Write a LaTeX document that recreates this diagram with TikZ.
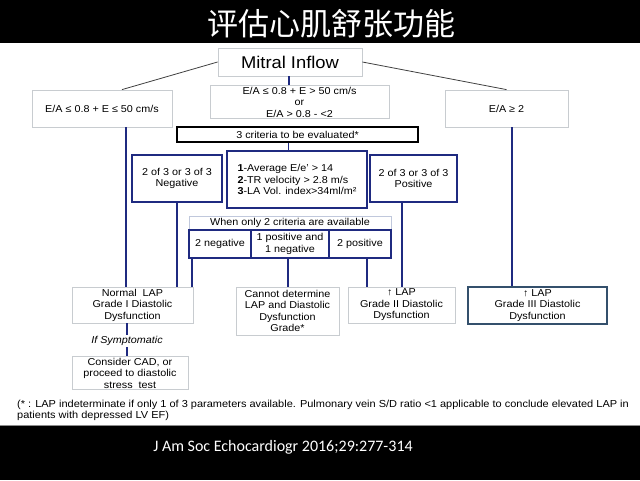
\documentclass[tikz,border=0pt]{standalone}
\usepackage{fontspec}
\setmainfont{Liberation Sans}[FakeStretch=1.08]
\newfontfamily\cjk{Noto Sans CJK SC}
\newfontfamily\citefont{Carlito}
\usetikzlibrary{positioning}
\definecolor{navy}{HTML}{1F2A80}
\definecolor{boxgray}{HTML}{C8CCD0}
\definecolor{slateblue}{HTML}{34506C}
\definecolor{lightframe}{HTML}{C0C8DC}

\begin{document}
\begin{tikzpicture}[x=1pt, y=-1pt,
	thinbox/.style={draw=boxgray, line width=0.8pt, fill=white, align=center, inner sep=1pt,
		font=\fontsize{10}{11.5}\selectfont},
	bluebox/.style={thinbox, draw=navy, line width=2pt},
	blueline/.style={draw=navy, line width=1.8pt},
	greyline/.style={draw=black!75, line width=0.8pt}]
	\useasboundingbox (0,0) rectangle (640,480);

	% Title and citation bars
	\fill[black] (0,0) rectangle (640,43);
	\fill[black] (0,425) rectangle (640,480);
	\draw[black!45, line width=0.6pt] (0,425) -- (640,425);
	\node[text=white, font=\cjk\fontsize{31}{33}\selectfont] (title) at (331,23.5) {评估心肌舒张功能};
	\node[text=white, font=\citefont\fontsize{16}{18}\selectfont] (cite) at (283,447) {J Am Soc Echocardiogr 2016;29:277-314};

	% Mitral inflow and first split
	\node[thinbox, minimum width=144, minimum height=28, font=\fontsize{17}{19}\selectfont] (mitral) at (290,62) {Mitral Inflow};
	\node[thinbox, minimum width=140, minimum height=37] (leftcond) at (102,108.5) {E/A ≤ 0.8 + E ≤ 50 cm/s};
	\node[thinbox, minimum width=179, minimum height=32] (midcond) at (299.5,102) {E/A ≤ 0.8 + E > 50 cm/s\\or\\E/A > 0.8 - <2};
	\node[thinbox, minimum width=123, minimum height=37] (rightcond) at (506.5,108.5) {E/A ≥ 2};

	\draw[greyline] (mitral.west) -- ([xshift=20]leftcond.north);
	\draw[greyline] (mitral.east) -- (rightcond.north);
	\draw[blueline] ([xshift=-1]mitral.south) -- ([xshift=-1]mitral.south |- midcond.north);

	% Three criteria
	\node[thinbox, draw=black, line width=2.2pt, minimum width=241, minimum height=15, inner sep=0pt] (three) at (297.5,134.5) {3 criteria to be evaluated*};
	\node[bluebox, minimum width=90, minimum height=47] (neg) at (177,178.5) {2 of 3 or 3 of 3\\Negative};
	\node[bluebox, minimum width=140, minimum height=57, align=left] (crit) at (297,179.5) {\textbf{1}-Average E/e' > 14\\\textbf{2}-TR velocity > 2.8 m/s\\\textbf{3}-LA Vol. index>34ml/m²};
	\node[bluebox, minimum width=87, minimum height=47] (pos) at (413.5,178.5) {2 of 3 or 3 of 3\\Positive};
	\draw[blueline] ([xshift=-9]three.south) -- ([xshift=-9]three.south |- crit.north);

	% Only two criteria
	\node[thinbox, draw=lightframe, minimum width=202, minimum height=14, inner sep=0pt] (when) at (290,223) {When only 2 criteria are available};
	\node[bluebox, minimum width=62, minimum height=28] (twoneg) at (220,244) {2 negative};
	\node[bluebox, minimum width=78, minimum height=28] (mixed) at (290,244) {1 positive and\\1 negative};
	\node[bluebox, minimum width=62, minimum height=28] (twopos) at (360,244) {2 positive};

	% Outcomes
	\node[thinbox, minimum width=121, minimum height=36] (normal) at (132.5,305) {Normal\ \ LAP\\Grade I Diastolic\\Dysfunction};
	\node[thinbox, minimum width=103, minimum height=48] (cannot) at (287.5,311) {Cannot determine\\LAP and Diastolic\\Dysfunction\\Grade*};
	\node[thinbox, minimum width=107, minimum height=36] (gradeii) at (401.5,305) {↑ LAP\\Grade II Diastolic\\Dysfunction};
	\node[thinbox, draw=slateblue, line width=2pt, minimum width=139, minimum height=37] (gradeiii) at (537.5,305.5) {↑ LAP\\Grade III Diastolic\\Dysfunction};

	\draw[blueline] ([xshift=24]leftcond.south) -- ([xshift=24]leftcond.south |- normal.north);
	\draw[blueline] (neg.south) -- (neg.south |- normal.north);
	\draw[blueline] ([xshift=-28]twoneg.south) -- ([xshift=-28]twoneg.south |- normal.north);
	\draw[blueline] ([xshift=-2]mixed.south) -- ([xshift=-2]mixed.south |- cannot.north);
	\draw[blueline] ([xshift=7]twopos.south) -- ([xshift=7]twopos.south |- gradeii.north);
	\draw[blueline] ([xshift=-11.5]pos.south) -- ([xshift=-11.5]pos.south |- gradeii.north);
	\draw[blueline] ([xshift=5.5]rightcond.south) -- ([xshift=5.5]rightcond.south |- gradeiii.north);

	% If symptomatic
	\node[font=\itshape\fontsize{10}{11.5}\selectfont, inner sep=1pt] (symptom) at (127,341) {If Symptomatic};
	\node[thinbox, minimum width=116, minimum height=32] (consider) at (130,373) {Consider CAD, or\\proceed to diastolic\\stress\ \ test};
	\draw[blueline] ([xshift=-5.5]normal.south) -- ([xshift=-5.5]normal.south |- symptom.north);
	\draw[blueline] ([xshift=-3]consider.north |- symptom.south) -- ([xshift=-3]consider.north);

	% Footnote
	\node[anchor=north west, align=left, inner sep=0pt, font=\fontsize{10.17}{11.8}\selectfont] (note) at (17,399.5)
		{(* : LAP indeterminate if only 1 of 3 parameters available. Pulmonary vein S/D ratio <1 applicable to conclude elevated LAP in\\patients with depressed LV EF)};
\end{tikzpicture}
\end{document}
